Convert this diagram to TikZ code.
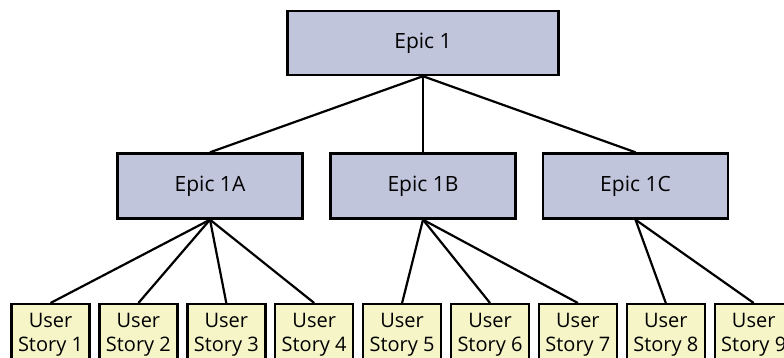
\documentclass[tikz,border=0pt]{standalone}
\usepackage{fontspec}
\setmainfont{Open Sans}
\definecolor{epicfill}{RGB}{192,197,220}
\definecolor{storyfill}{RGB}{245,245,200}
\begin{document}
\begin{tikzpicture}[x=1pt,y=-1pt,
    epicbox/.style={rectangle,draw=black,line width=2.4pt,fill=epicfill,
      minimum height=64pt,inner sep=0pt,font=\fontsize{21}{25}\selectfont},
    storybox/.style={rectangle,draw=black,line width=2.4pt,fill=storyfill,
      anchor=north,minimum width=78pt,minimum height=62pt,inner sep=0pt,
      align=center,font=\fontsize{20}{24}\selectfont},
    link/.style={draw=black,line width=2.2pt}]
  \clip (0,0) rectangle (784,357);
  \fill[white] (0,0) rectangle (784,357);
  % epics
  \node[epicbox,minimum width=271pt] (epic1) at (423,43) {Epic 1};
  \node[epicbox,minimum width=185pt,minimum height=65pt] (epic1a) at (210,186) {Epic 1A};
  \node[epicbox,minimum width=185pt,minimum height=65pt] (epic1b) at (423,186) {Epic 1B};
  \node[epicbox,minimum width=185pt,minimum height=65pt] (epic1c) at (635.5,186) {Epic 1C};
  % user stories
  \foreach \i in {1,...,9}
    \node[storybox] (story\i) at ({50.5+87.9*(\i-1)},303) {User\\Story \i};
  % connectors
  \foreach \e in {epic1a,epic1b,epic1c}
    \draw[link] (epic1.south) -- (\e.north);
  \foreach \s in {1,2,3,4}
    \draw[link] (epic1a.south) -- (story\s.north);
  \foreach \s in {5,6,7}
    \draw[link] (epic1b.south) -- (story\s.north);
  \foreach \s in {8,9}
    \draw[link] (epic1c.south) -- (story\s.north);
\end{tikzpicture}
\end{document}
